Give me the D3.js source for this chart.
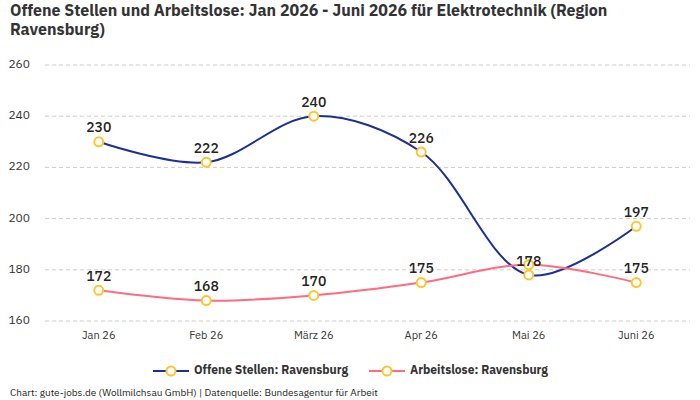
<!DOCTYPE html>
<html>
<head>
<meta charset="utf-8">
<script src="https://cdn.jsdelivr.net/npm/d3@7"></script>
<style>
  body { margin: 0; background: #fff; }
  svg { display: block; font-family: "IBM Plex Sans", Roboto, "Noto Sans", sans-serif; }
</style>
</head>
<body>
<div id="chart"></div>
<script>
const months = ["Jan 26", "Feb 26", "März 26", "Apr 26", "Mai 26", "Juni 26"];
const offeneStellen = [230, 222, 240, 226, 178, 197];
const arbeitslose = [172, 168, 170, 175, 182, 175];
const yTicks = [160, 180, 200, 220, 240, 260];
const seriesNames = ["Offene Stellen: Ravensburg", "Arbeitslose: Ravensburg"];

const width = 700;
const height = 400;
const margin = {top: 65, right: 10, bottom: 79, left: 45};

const svg = d3.select("#chart")
    .append("svg")
    .attr("width", width)
    .attr("height", height);

// Title
const title = svg.append("text")
    .attr("x", 10)
    .attr("y", 16)
    .style("font-size", "16px")
    .style("font-weight", "bold")
    .style("fill", "#333");
title.append("tspan").attr("x", 10).text("Offene Stellen und Arbeitslose: Jan 2026 - Juni 2026 für Elektrotechnik (Region");
title.append("tspan").attr("x", 10).attr("dy", 19).text("Ravensburg)");

const x = d3.scalePoint()
    .domain(months)
    .range([margin.left, width - margin.right])
    .padding(0.5);

const y = d3.scaleLinear()
    .domain([160, 260])
    .range([height - margin.bottom, margin.top]);

// Grid lines
svg.append("g")
    .selectAll("line")
    .data(yTicks)
    .join("line")
    .attr("x1", margin.left)
    .attr("x2", width - margin.right)
    .attr("y1", d => y(d))
    .attr("y2", d => y(d))
    .attr("stroke", "#ccc")
    .attr("stroke-dasharray", "4,3");

// Y labels
svg.append("g")
    .selectAll("text")
    .data(yTicks)
    .join("text")
    .attr("x", 30)
    .attr("y", d => y(d))
    .attr("text-anchor", "end")
    .attr("dominant-baseline", "middle")
    .style("font-size", "12px")
    .style("fill", "#333")
    .text(d => d);

// X labels
svg.append("g")
    .selectAll("text")
    .data(months)
    .join("text")
    .attr("x", d => x(d))
    .attr("y", 336)
    .attr("text-anchor", "middle")
    .attr("dominant-baseline", "middle")
    .style("font-size", "11px")
    .style("fill", "#333")
    .text(d => d);

const series = [
    {name: seriesNames[0], values: offeneStellen, color: "#1c2f93"},
    {name: seriesNames[1], values: arbeitslose, color: "#ff6b81"}
];

const line = d3.line()
    .x((d, i) => x(months[i]))
    .y(d => y(d))
    .curve(d3.curveCatmullRom.alpha(0.5));

series.forEach(s => {
    svg.append("path")
        .datum(s.values)
        .attr("fill", "none")
        .attr("stroke", s.color)
        .attr("stroke-width", 2)
        .attr("d", line);
});

series.forEach(s => {
    svg.append("g")
        .selectAll("circle")
        .data(s.values)
        .join("circle")
        .attr("cx", (d, i) => x(months[i]))
        .attr("cy", d => y(d))
        .attr("r", 4.5)
        .attr("fill", "#fff")
        .attr("stroke", "#fcc62d")
        .attr("stroke-width", 2);
});

// Value labels, hide ones that overlap an earlier label
const placed = [];
series.forEach(s => {
    s.values.forEach((v, i) => {
        const lx = x(months[i]);
        const ly = y(v) - 13;
        const hit = placed.some(p => Math.abs(p.x - lx) < 24 && Math.abs(p.y - ly) < 14);
        if (hit) return;
        placed.push({x: lx, y: ly});
        svg.append("text")
            .attr("x", lx)
            .attr("y", ly)
            .attr("text-anchor", "middle")
            .attr("dominant-baseline", "middle")
            .style("font-size", "14px")
            .style("font-weight", "500")
            .style("fill", "#222")
            .text(v);
    });
});

// Legend
const legendX = [153, 369];
series.forEach((s, i) => {
    const g = svg.append("g").attr("transform", `translate(${legendX[i]},371)`);
    g.append("line")
        .attr("x1", 0).attr("x2", 36)
        .attr("stroke", s.color)
        .attr("stroke-width", 2);
    g.append("circle")
        .attr("cx", 18)
        .attr("r", 4.5)
        .attr("fill", "#fff")
        .attr("stroke", "#fcc62d")
        .attr("stroke-width", 2);
    g.append("text")
        .attr("x", 41)
        .attr("dominant-baseline", "middle")
        .style("font-size", "12px")
        .style("font-weight", "bold")
        .style("fill", "#333")
        .text(s.name);
});

// Footer
svg.append("text")
    .attr("x", 10)
    .attr("y", 393)
    .attr("dominant-baseline", "middle")
    .style("font-size", "10px")
    .style("fill", "#222")
    .text("Chart: gute-jobs.de (Wollmilchsau GmbH) | Datenquelle: Bundesagentur für Arbeit");
</script>
</body>
</html>
